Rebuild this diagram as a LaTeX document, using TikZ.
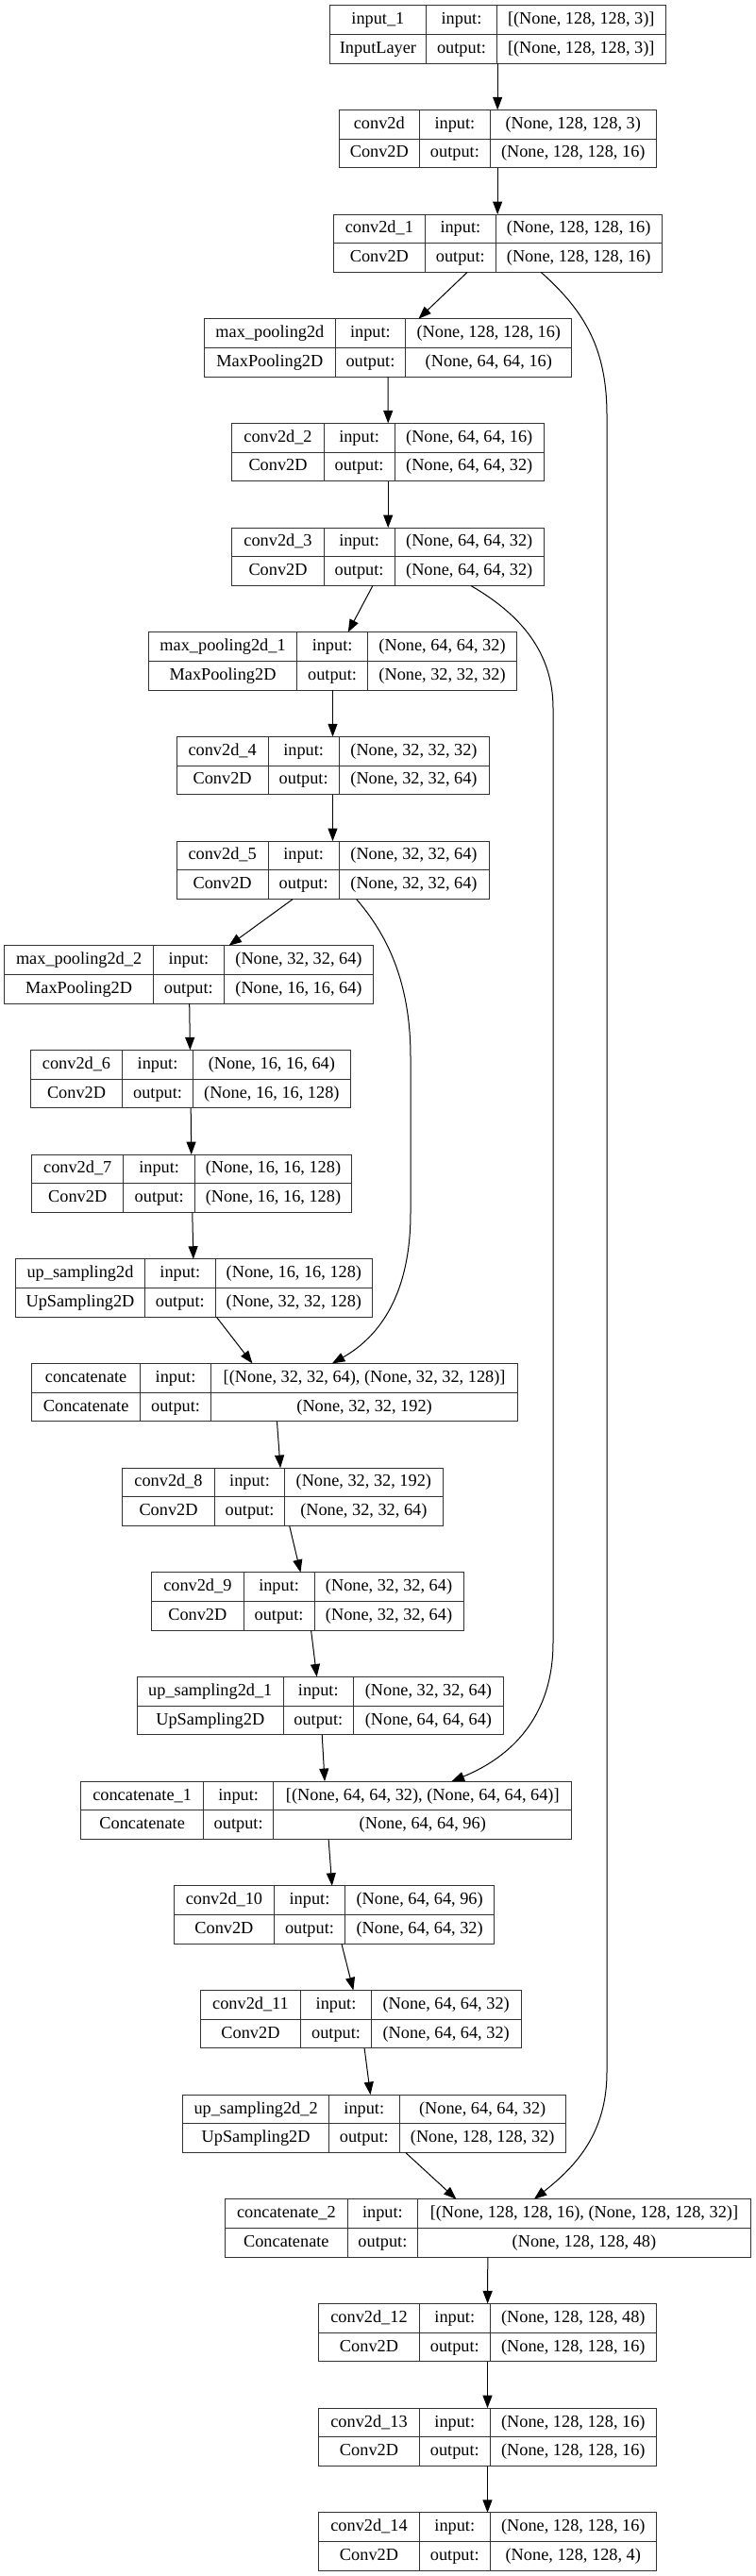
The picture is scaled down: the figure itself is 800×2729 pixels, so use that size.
\documentclass[tikz,border=0pt]{standalone}
\usepackage{fontspec}
\setmainfont{Liberation Serif}
\usetikzlibrary{arrows.meta}

\tikzset{
  layerbox/.style={draw=black!80, line width=1pt, inner sep=0pt, outer sep=0pt, anchor=north west},
  cellline/.style={draw=black!80, line width=1pt},
  celltext/.style={inner sep=0pt, text height=12.5pt, text depth=3.5pt, font=\fontsize{18.3}{22}\selectfont},
  flow/.style={line width=1pt, -{Triangle[length=13.5pt,width=10pt]}},
}

\newcounter{layerrow}
\newcommand{\kerasbox}[9]{%
  \pgfmathsetmacro{\ytop}{5.7+110.67*\arabic{layerrow}}%
  \pgfmathsetmacro{\ybot}{\ytop+61.5}%
  \pgfmathsetmacro{\ymid}{\ytop+30.75}%
  \pgfmathsetmacro{\wbox}{#5-#2}%
  \node[layerbox, minimum width=\wbox pt, minimum height=61.5pt] (#1) at (#2,\ytop) {};
  \draw[cellline] (#3,\ytop) -- (#3,\ybot) (#4,\ytop) -- (#4,\ybot) (#2,\ymid) -- (#5,\ymid);
  \node[celltext] (#1-name) at ({(#2+#3)/2},\ytop+15.4) {#6};
  \node[celltext] (#1-type) at ({(#2+#3)/2},\ytop+46.1) {#7};
  \node[celltext] (#1-inl) at ({(#3+#4)/2},\ytop+15.4) {input:};
  \node[celltext] (#1-outl) at ({(#3+#4)/2},\ytop+46.1) {output:};
  \node[celltext] (#1-in) at ({(#4+#5)/2},\ytop+15.4) {#8};
  \node[celltext] (#1-out) at ({(#4+#5)/2},\ytop+46.1) {#9};
  \stepcounter{layerrow}}

\begin{document}
\begin{tikzpicture}[x=1pt, y=-1pt]
  \useasboundingbox (0,0) rectangle (800,2729);

  \kerasbox{in1}{349.2}{451.6}{526.4}{705.1}{input\_1}{InputLayer}{[(None, 128, 128, 3)]}{[(None, 128, 128, 3)]}
  \kerasbox{cv0}{359.1}{444.5}{519.3}{695.2}{conv2d}{Conv2D}{(None, 128, 128, 3)}{(None, 128, 128, 16)}
  \kerasbox{cv1}{353.2}{450.5}{525.2}{701.1}{conv2d\_1}{Conv2D}{(None, 128, 128, 16)}{(None, 128, 128, 16)}
  \kerasbox{mp0}{216.7}{355.1}{429.8}{605.8}{max\_pooling2d}{MaxPooling2D}{(None, 128, 128, 16)}{(None, 64, 64, 16)}
  \kerasbox{cv2}{245.9}{343.2}{418.0}{576.5}{conv2d\_2}{Conv2D}{(None, 64, 64, 16)}{(None, 64, 64, 32)}
  \kerasbox{cv3}{245.9}{343.2}{418.0}{576.5}{conv2d\_3}{Conv2D}{(None, 64, 64, 32)}{(None, 64, 64, 32)}
  \kerasbox{mp1}{157.4}{314.7}{389.5}{547.6}{max\_pooling2d\_1}{MaxPooling2D}{(None, 64, 64, 32)}{(None, 32, 32, 32)}
  \kerasbox{cv4}{187.0}{284.3}{359.0}{518.0}{conv2d\_4}{Conv2D}{(None, 32, 32, 32)}{(None, 32, 32, 64)}
  \kerasbox{cv5}{187.0}{284.3}{359.0}{518.0}{conv2d\_5}{Conv2D}{(None, 32, 32, 64)}{(None, 32, 32, 64)}
  \kerasbox{mp2}{4.7}{162.5}{237.2}{395.8}{max\_pooling2d\_2}{MaxPooling2D}{(None, 32, 32, 64)}{(None, 16, 16, 64)}
  \kerasbox{cv6}{32.4}{129.7}{204.4}{371.3}{conv2d\_6}{Conv2D}{(None, 16, 16, 64)}{(None, 16, 16, 128)}
  \kerasbox{cv7}{33.6}{130.9}{206.4}{372.5}{conv2d\_7}{Conv2D}{(None, 16, 16, 128)}{(None, 16, 16, 128)}
  \kerasbox{up0}{16.6}{153.4}{228.2}{394.6}{up\_sampling2d}{UpSampling2D}{(None, 16, 16, 128)}{(None, 32, 32, 128)}
  \kerasbox{cat0}{33.6}{148.7}{223.4}{548.8}{concatenate}{Concatenate}{[(None, 32, 32, 64), (None, 32, 32, 128)]}{(None, 32, 32, 192)}
  \kerasbox{cv8}{129.7}{227.4}{301.7}{469.0}{conv2d\_8}{Conv2D}{(None, 32, 32, 192)}{(None, 32, 32, 64)}
  \kerasbox{cv9}{160.5}{258.2}{333.0}{491.1}{conv2d\_9}{Conv2D}{(None, 32, 32, 64)}{(None, 32, 32, 64)}
  \kerasbox{up1}{145.5}{300.1}{374.5}{533.4}{up\_sampling2d\_1}{UpSampling2D}{(None, 32, 32, 64)}{(None, 64, 64, 64)}
  \kerasbox{cat1}{85.8}{215.5}{289.8}{605.8}{concatenate\_1}{Concatenate}{[(None, 64, 64, 32), (None, 64, 64, 64)]}{(None, 64, 64, 96)}
  \kerasbox{cv10}{184.3}{290.6}{365.4}{523.9}{conv2d\_10}{Conv2D}{(None, 64, 64, 96)}{(None, 64, 64, 32)}
  \kerasbox{cv11}{212.3}{318.7}{393.4}{552.0}{conv2d\_11}{Conv2D}{(None, 64, 64, 32)}{(None, 64, 64, 32)}
  \kerasbox{up2}{193.8}{348.4}{423.2}{599.1}{up\_sampling2d\_2}{UpSampling2D}{(None, 64, 64, 32)}{(None, 128, 128, 32)}
  \kerasbox{cat2}{238.5}{368.2}{442.6}{795.3}{concatenate\_2}{Concatenate}{[(None, 128, 128, 16), (None, 128, 128, 32)]}{(None, 128, 128, 48)}
  \kerasbox{cv12}{337.7}{444.3}{519.3}{695.3}{conv2d\_12}{Conv2D}{(None, 128, 128, 48)}{(None, 128, 128, 16)}
  \kerasbox{cv13}{337.7}{444.3}{519.3}{695.3}{conv2d\_13}{Conv2D}{(None, 128, 128, 16)}{(None, 128, 128, 16)}
  \kerasbox{cv14}{337.7}{444.3}{519.3}{695.3}{conv2d\_14}{Conv2D}{(None, 128, 128, 16)}{(None, 128, 128, 4)}

  \foreach \a/\b in {in1/cv0, cv0/cv1, cv1/mp0, mp0/cv2, cv2/cv3, cv3/mp1, mp1/cv4, cv4/cv5,
      cv5/mp2, mp2/cv6, cv6/cv7, cv7/up0, up0/cat0, cat0/cv8, cv8/cv9, cv9/up1, up1/cat1,
      cat1/cv10, cv10/cv11, cv11/up2, up2/cat2, cat2/cv12, cv12/cv13, cv13/cv14}
    \draw[flow] (\a) -- (\b);

  \draw[flow] ([xshift=46.2pt]cv1.south) .. controls (620,330) and (643,370) .. (643,440)
    -- (643,2195) .. controls (643,2260) and (610,2295) .. ([xshift=49pt]cat2.north);
  \draw[flow] ([xshift=87.8pt]cv3.south) .. controls (550,650) and (586,690) .. (586,750)
    -- (586,1740) .. controls (586,1820) and (540,1862) .. ([xshift=132.7pt]cat1.north);
  \draw[flow] ([xshift=25.1pt]cv5.south) .. controls (410,990) and (435,1040) .. (435,1120)
    -- (435,1285) .. controls (435,1380) and (395,1420) .. ([xshift=60.7pt]cat0.north);
\end{tikzpicture}
\end{document}
